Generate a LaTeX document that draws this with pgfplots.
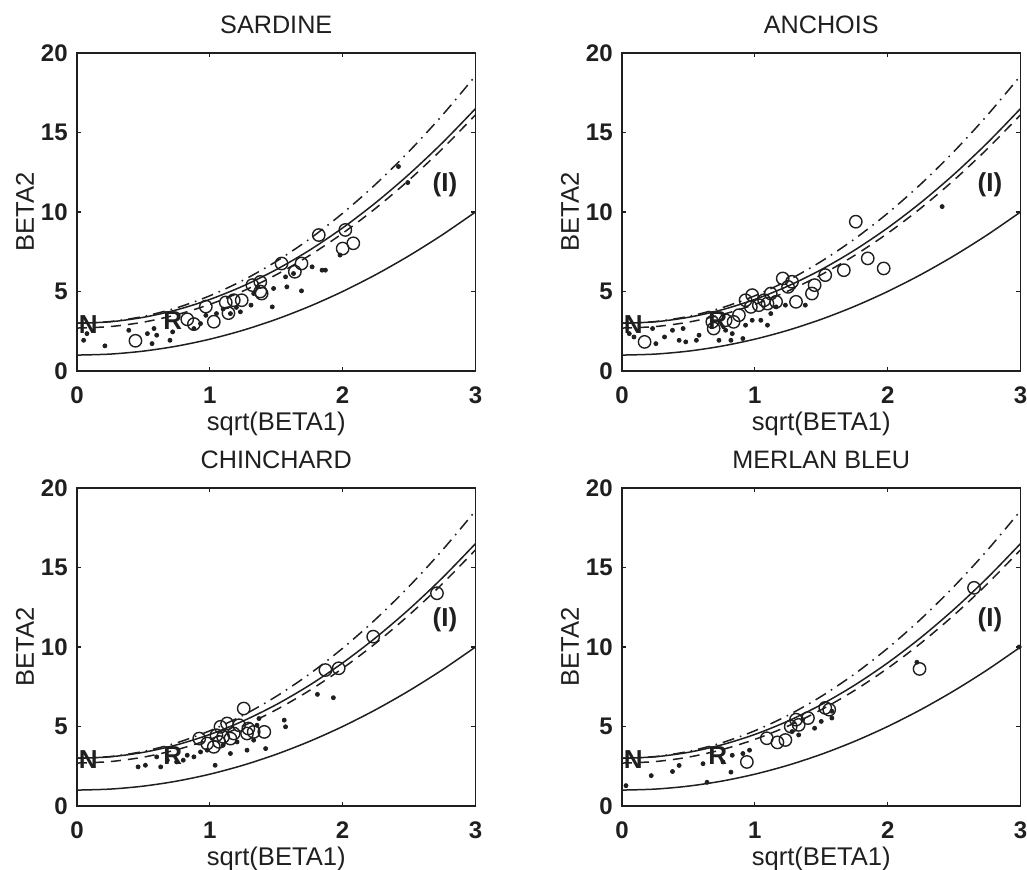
\documentclass[border=0pt]{standalone}
\usepackage{pgfplots}
\pgfplotsset{compat=1.18}
\usepackage{fontspec}
\setmainfont{Liberation Sans}
\definecolor{ink}{rgb}{0.12,0.12,0.12}

\pgfplotstableread{
x lo ga wb ig
0 1 3 2.7 3
0.25 1.0625 3.09375 2.793 3.108
0.5 1.25 3.375 3.0725 3.4325
0.75 1.5625 3.84375 3.538 3.973
1 2 4.5 4.19 4.73
1.25 2.5625 5.34375 5.028 5.703
1.5 3.25 6.375 6.0525 6.8925
1.75 4.0625 7.59375 7.263 8.298
2 5 9 8.66 9.92
2.25 6.0625 10.59375 10.243 11.758
2.5 7.25 12.375 12.0125 13.8125
2.75 8.5625 14.34375 13.968 16.083
3 10 16.5 16.11 18.57
}\curves

\pgfplotstableread{
x y
0.44 1.90
0.83 3.25
0.88 2.95
0.97 4.05
1.03 3.10
1.12 4.31
1.14 3.64
1.18 4.45
1.24 4.45
1.32 5.40
1.38 5.00
1.38 5.60
1.39 4.87
1.54 6.76
1.64 6.24
1.69 6.76
1.82 8.55
2.02 8.87
2.00 7.70
2.08 8.03
}\circA
\pgfplotstableread{
x y
0.05 1.93
0.075 2.35
0.21 1.58
0.39 2.56
0.53 2.35
0.565 1.72
0.60 2.25
0.58 2.67
0.70 1.93
0.72 2.46
0.88 2.67
0.93 2.98
1.05 3.61
1.155 3.61
1.23 3.72
1.31 4.14
1.33 4.87
1.47 4.03
1.48 5.19
1.58 5.29
1.57 5.92
1.69 5.04
1.77 6.55
1.845 6.34
1.87 6.34
1.98 7.29
2.42 12.86
2.49 11.85
1.63 6.13
1.36 5.29
1.10 3.90
1.20 4.00
0.97 3.50
}\dotA

\pgfplotstableread{
x y
0.17 1.83
0.68 3.09
0.69 2.67
0.78 3.19
0.84 3.09
0.88 3.51
0.93 4.45
0.98 4.77
0.97 4.03
1.03 4.14
1.07 4.45
1.095 4.24
1.12 4.87
1.16 4.35
1.21 5.82
1.25 5.29
1.28 5.61
1.31 4.35
1.43 4.87
1.45 5.40
1.53 6.03
1.67 6.34
1.76 9.39
1.85 7.08
1.97 6.45
}\circB
\pgfplotstableread{
x y
0.055 2.35
0.09 2.14
0.23 2.67
0.255 1.72
0.32 2.14
0.38 2.56
0.43 1.93
0.48 1.83
0.46 2.67
0.56 1.93
0.58 2.25
0.73 1.93
0.82 1.93
0.91 2.04
0.83 2.35
0.78 2.56
0.98 3.19
1.095 2.88
1.045 3.19
1.16 4.03
1.23 4.14
1.38 4.14
2.41 10.34
1.12 3.61
0.93 2.88
}\dotB

\pgfplotstableread{
x y
0.92 4.24
0.98 3.93
1.03 3.72
1.05 4.45
1.07 4.03
1.08 4.98
1.10 4.35
1.13 5.19
1.155 4.24
1.18 4.56
1.22 5.08
1.255 6.13
1.28 4.56
1.29 4.87
1.33 4.66
1.41 4.66
1.87 8.55
1.97 8.66
2.23 10.65
2.71 13.38
}\circC
\pgfplotstableread{
x y
0.46 2.46
0.515 2.56
0.63 2.46
0.60 3.09
0.68 2.88
0.75 2.77
0.80 2.88
0.83 3.19
0.88 3.09
1.04 2.56
1.155 3.30
1.28 3.51
1.42 3.61
1.355 5.08
1.56 5.40
1.57 4.98
1.81 7.02
1.93 6.81
0.93 3.40
0.98 3.51
1.10 3.82
1.205 4.03
1.33 4.14
1.37 5.50
}\dotC

\pgfplotstableread{
x y
0.94 2.77
1.09 4.26
1.17 4.00
1.23 4.15
1.27 5.00
1.31 5.43
1.33 5.10
1.40 5.53
1.53 6.17
1.56 6.06
2.24 8.62
2.65 13.72
}\circD
\pgfplotstableread{
x y
0.03 1.28
0.22 1.91
0.38 2.17
0.43 2.55
0.61 2.66
0.64 1.49
0.82 2.13
0.83 3.19
0.91 3.30
0.96 3.51
1.33 4.47
1.45 4.89
1.50 5.32
1.58 5.53
1.58 5.96
2.22 9.04
2.99 10.00
1.28 4.68
1.36 5.43
0.76 2.77
}\dotD

\tikzset{lab/.style={font=\bfseries\fontsize{13}{13}\selectfont, text=ink, inner sep=0pt}}

\pgfplotsset{
  every axis title/.style={at={(axis description cs:0.5,1.088)}, anchor=center, font=\fontsize{12.6}{13}\selectfont, text=ink},
  panel/.style={
    scale only axis, width=199.25pt, height=159pt, anchor=south west,
    xmin=0, xmax=3, ymin=0, ymax=20,
    xtick={0,1,2,3}, ytick={0,5,10,15,20},
    tick align=inside, major tick length=2.2pt,
    axis line style={line width=0.8pt, ink},
    every tick/.style={ink, line width=0.6pt},
    /pgf/number format/assume math mode=true,
    ticklabel style={font=\bfseries\fontsize{12}{12}\selectfont, text=ink},
    xticklabel style={anchor=center, yshift=-12pt},
    yticklabel style={anchor=east, inner sep=0pt, xshift=-4.5pt},
    xlabel={sqrt(BETA1)}, ylabel={BETA2},
    xlabel style={at={(axis description cs:0.5,-0.165)}, anchor=center, font=\fontsize{12.8}{13}\selectfont, text=ink},
    ylabel style={at={(axis description cs:-0.1305,0.5)}, anchor=center, font=\fontsize{12.8}{13}\selectfont, text=ink},
  },
  lo/.style={ink, line width=0.75pt, smooth, no marks},
  ga/.style={ink, line width=0.75pt, smooth, no marks},
  wb/.style={ink, line width=0.75pt, smooth, no marks, dash pattern=on 5pt off 3.5pt},
  ig/.style={ink, line width=0.75pt, smooth, no marks, dash pattern=on 6pt off 3pt on 0.8pt off 3pt},
  circ/.style={only marks, mark=o, mark size=3.1pt, ink, mark options={line width=0.7pt}},
  dt/.style={only marks, mark=*, mark size=1pt, ink},
}

\newcommand{\curvesall}{%
  \addplot[lo] table[x=x,y=lo]{\curves};
  \addplot[ga] table[x=x,y=ga]{\curves};
  \addplot[wb] table[x=x,y=wb]{\curves};
  \addplot[ig] table[x=x,y=ig]{\curves};
}
\newcommand{\labelsall}{%
  \node[lab] at (axis cs:0.085,2.9) {N};
  \node[lab] at (axis cs:0.72,3.2) {R};
  \node[lab] at (axis cs:2.77,11.7) {(I)};
}

\begin{document}
\begin{tikzpicture}[x=1pt,y=1pt]
\useasboundingbox (0,0) rectangle (513.5,435);

\begin{axis}[panel, at={(38.5pt,249.5pt)}, title={SARDINE}]
\curvesall
\addplot[dt] table{\dotA};
\addplot[circ] table{\circA};
\labelsall
\end{axis}

\begin{axis}[panel, at={(311pt,249.5pt)}, title={ANCHOIS}]
\curvesall
\addplot[dt] table{\dotB};
\addplot[circ] table{\circB};
\labelsall
\end{axis}

\begin{axis}[panel, at={(38.5pt,32pt)}, title={CHINCHARD}]
\curvesall
\addplot[dt] table{\dotC};
\addplot[circ] table{\circC};
\labelsall
\end{axis}

\begin{axis}[panel, at={(311pt,32pt)}, title={MERLAN BLEU}]
\curvesall
\addplot[dt] table{\dotD};
\addplot[circ] table{\circD};
\labelsall
\end{axis}
\end{tikzpicture}
\end{document}
